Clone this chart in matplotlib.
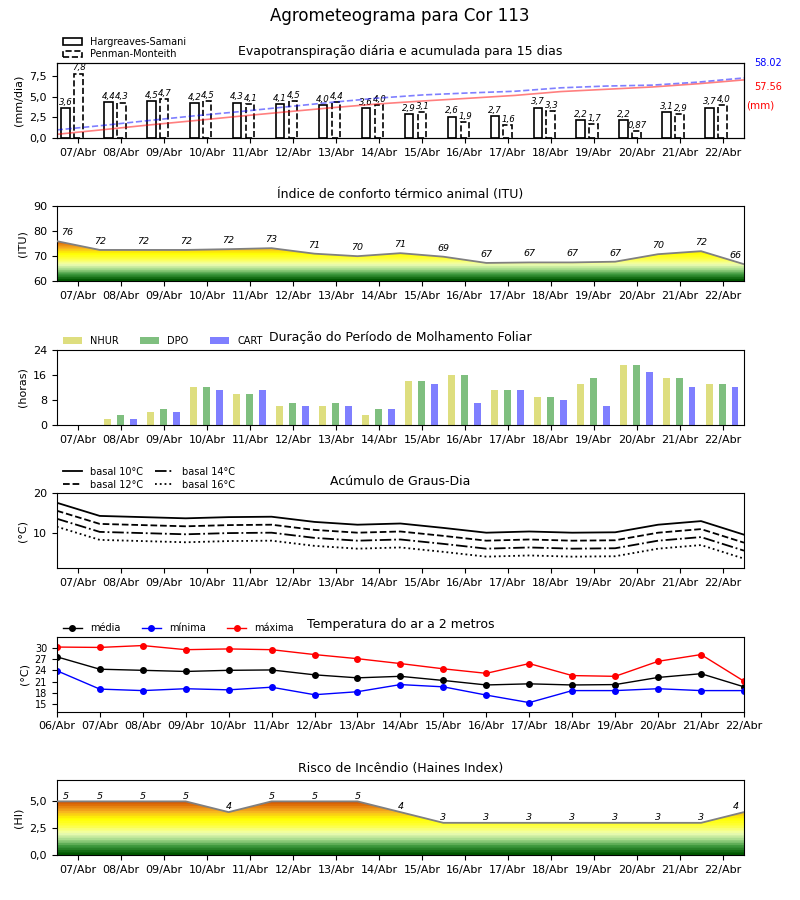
import numpy as np
import matplotlib
matplotlib.use("Agg")
import matplotlib.pyplot as plt
import matplotlib.patches as patches
from matplotlib.colors import LinearSegmentedColormap

# --- dados ---
dias = ["06/Abr", "07/Abr", "08/Abr", "09/Abr", "10/Abr", "11/Abr", "12/Abr", "13/Abr", "14/Abr",
        "15/Abr", "16/Abr", "17/Abr", "18/Abr", "19/Abr", "20/Abr", "21/Abr", "22/Abr"]

et_hs = [3.6, 4.4, 4.5, 4.2, 4.3, 4.1, 4.0, 3.6, 2.9, 2.6, 2.7, 3.7, 2.2, 2.2, 3.1, 3.7]
et_pm = [7.8, 4.3, 4.7, 4.5, 4.1, 4.5, 4.4, 4.0, 3.1, 1.9, 1.6, 3.3, 1.7, 0.87, 2.9, 4.0]
total_hs = 57.56
total_pm = 58.02

itu = [76.1, 72.6, 72.6, 72.6, 72.9, 73.3, 71.1, 70.1, 71.3, 69.9, 67.4, 67.6, 67.6, 67.9, 70.9, 72.1, 66.9]

nhur = [0, 2, 4, 12, 10, 6, 6, 3, 14, 16, 11, 9, 13, 19, 15, 13]
dpo = [0, 3, 5, 12, 10, 7, 7, 5, 14, 16, 11, 9, 15, 19, 15, 13]
cart = [0, 2, 4, 11, 11, 6, 6, 5, 13, 7, 11, 8, 6, 17, 12, 12]

gd10 = [17.6, 14.3, 14.0, 13.7, 14.0, 14.1, 12.8, 12.1, 12.4, 11.3, 10.1, 10.4, 10.1, 10.2, 12.1, 13.0, 9.6]
gd12 = [15.6, 12.3, 12.0, 11.7, 12.0, 12.1, 10.8, 10.1, 10.4, 9.3, 8.1, 8.4, 8.1, 8.2, 10.1, 11.0, 7.6]
gd14 = [13.6, 10.3, 10.0, 9.7, 10.0, 10.1, 8.8, 8.1, 8.4, 7.3, 6.1, 6.4, 6.1, 6.2, 8.1, 9.0, 5.6]
gd16 = [11.6, 8.3, 8.0, 7.7, 8.0, 8.1, 6.8, 6.1, 6.4, 5.3, 4.1, 4.4, 4.1, 4.2, 6.1, 7.0, 3.6]

t_media = [27.6, 24.3, 24.0, 23.7, 24.0, 24.1, 22.8, 22.0, 22.4, 21.3, 20.1, 20.4, 20.1, 20.2, 22.1, 23.1, 19.6]
t_min = [23.9, 19.0, 18.6, 19.1, 18.8, 19.5, 17.5, 18.3, 20.2, 19.6, 17.4, 15.4, 18.6, 18.6, 19.1, 18.6, 18.6]
t_max = [30.2, 30.1, 30.6, 29.5, 29.7, 29.5, 28.2, 27.1, 25.8, 24.4, 23.2, 25.8, 22.6, 22.4, 26.4, 28.2, 21.1]

haines = [5, 5, 5, 5, 4, 5, 5, 5, 4, 3, 3, 3, 3, 3, 3, 3, 4]


def br(v, nd):
    return f"{v:.{nd}f}".replace(".", ",")


def et_label(v):
    return br(v, 2) if v < 1 else br(v, 1)


cmap = LinearSegmentedColormap.from_list(
    "risco",
    [(0.0, "#005800"), (0.15, "#3f9a3f"), (0.28, "#a9dc8f"), (0.4, "#f0ffb4"),
     (0.55, "#ffff3a"), (0.68, "#ffff00"), (0.82, "#f7b222"), (1.0, "#d65800")],
    N=22)


def gradient_fill(ax, x, y, ymin):
    ymax = max(y)
    img = ax.imshow(np.linspace(0, 1, 256).reshape(-1, 1), cmap=cmap, aspect="auto",
                    origin="lower", extent=[x[0], x[-1], ymin, ymax], zorder=1)
    verts = [(x[0], ymin)] + list(zip(x, y)) + [(x[-1], ymin)]
    poly = patches.Polygon(verts, closed=True, facecolor="none", edgecolor="none")
    ax.add_patch(poly)
    img.set_clip_path(poly)
    ax.plot(x, y, color="gray", lw=1.3, zorder=3)


fig, axs = plt.subplots(6, 1, figsize=(8, 9), dpi=100)
fig.subplots_adjust(left=0.071, right=0.93, bottom=0.05, top=0.93, hspace=0.91)
fig.suptitle("Agrometeograma para Cor 113", fontsize=12, y=0.992)

xd = np.arange(16)
xl = np.arange(17) - 0.5

for ax in axs:
    ax.tick_params(labelsize=8)
for ax in [axs[0], axs[1], axs[2], axs[3], axs[5]]:
    ax.set_xticks(xd)
    ax.set_xticklabels(dias[1:])
    ax.set_xlim(-0.5, 15.5)

# --- evapotranspiracao ---
ax = axs[0]
b1 = ax.bar(xd - 0.3, et_hs, 0.2, facecolor="white", edgecolor="black", lw=1.2,
            label="Hargreaves-Samani")
b2 = ax.bar(xd, et_pm, 0.2, facecolor="white", edgecolor="black", lw=1.2, ls="--",
            label="Penman-Monteith")
for i in range(16):
    ax.text(xd[i] - 0.3, et_hs[i] + 0.15, et_label(et_hs[i]), ha="center", va="bottom",
            fontsize=6.2, style="italic")
    ax.text(xd[i] + 0.02, et_pm[i] + 0.15, et_label(et_pm[i]), ha="center", va="bottom",
            fontsize=6.2, style="italic")
ax.set_ylim(0, 9.1)
ax.set_yticks([0, 2.5, 5, 7.5])
ax.set_yticklabels([br(v, 1) for v in [0, 2.5, 5, 7.5]])
ax.set_ylabel("(mm/dia)", fontsize=8)
ax.set_title("Evapotranspiração diária e acumulada para 15 dias", fontsize=9)
ax.legend(handles=[b1, b2], loc="lower left", bbox_to_anchor=(0, 0.97), frameon=False,
          fontsize=7, borderpad=0.1, labelspacing=0.3)
ax2 = ax.twinx()
xc = np.linspace(-0.5, 15.5, 16)
ax2.plot(xc, np.cumsum(et_hs), color="r", alpha=0.5, lw=1.2)
ax2.plot(xc, np.cumsum(et_pm), color="b", ls="--", alpha=0.5, lw=1.2)
ax2.set_ylim(0, 72)
ax2.set_yticks([])
ax2.set_xlim(-0.5, 15.5)
ax.text(1.015, 1.0, f"{total_pm:.2f}", transform=ax.transAxes, color="blue", fontsize=7,
        va="center", ha="left")
ax.text(1.015, 0.68, f"{total_hs:.2f}", transform=ax.transAxes, color="red", fontsize=7,
        va="center", ha="left")
ax.text(1.003, 0.43, "(mm)", transform=ax.transAxes, color="red", fontsize=7.5,
        va="center", ha="left")

# --- ITU ---
ax = axs[1]
gradient_fill(ax, xl, itu, 60)
for i, v in enumerate(itu):
    xt = min(max(xl[i], -0.25), 15.3)
    ax.annotate(str(int(v)), (xt, v), xytext=(0, 3), textcoords="offset points",
                ha="center", va="bottom", fontsize=6.8, style="italic")
ax.set_xlim(-0.5, 15.5)
ax.set_ylim(60, 90)
ax.set_yticks([60, 70, 80, 90])
ax.set_ylabel("(ITU)", fontsize=8)
ax.set_title("Índice de conforto térmico animal (ITU)", fontsize=9)

# --- molhamento foliar ---
ax = axs[2]
ax.bar(xd - 0.31, nhur, 0.16, color="y", alpha=0.5, label="NHUR")
ax.bar(xd - 0.01, dpo, 0.16, color="g", alpha=0.5, label="DPO")
ax.bar(xd + 0.29, cart, 0.16, color="b", alpha=0.5, label="CART")
ax.set_ylim(0, 24)
ax.set_yticks([0, 8, 16, 24])
ax.set_ylabel("(horas)", fontsize=8)
ax.set_title("Duração do Período de Molhamento Foliar", fontsize=9)
ax.legend(loc="lower left", bbox_to_anchor=(0, 0.97), ncol=3, frameon=False, fontsize=7,
          borderpad=0.1, columnspacing=2.2)

# --- graus-dia ---
ax = axs[3]
ax.plot(xl, gd10, "k-", lw=1.3, label="basal 10°C")
ax.plot(xl, gd12, "k--", lw=1.3, label="basal 12°C")
ax.plot(xl, gd14, "k-.", lw=1.3, label="basal 14°C")
ax.plot(xl, gd16, "k:", lw=1.3, label="basal 16°C")
ax.set_ylim(1.2, 20)
ax.set_yticks([10, 20])
ax.set_ylabel("(°C)", fontsize=8)
ax.set_title("Acúmulo de Graus-Dia", fontsize=9)
ax.legend(loc="lower left", bbox_to_anchor=(0, 0.97), ncol=2, frameon=False, fontsize=7,
          borderpad=0.1, labelspacing=0.3, columnspacing=1.2)

# --- temperatura ---
ax = axs[4]
xt_ = np.arange(17)
ax.plot(xt_, t_media, "k-", marker="o", ms=4, lw=1, label="média")
ax.plot(xt_, t_min, "b-", marker="o", ms=4, lw=1, label="mínima")
ax.plot(xt_, t_max, "r-", marker="o", ms=4, lw=1, label="máxima")
ax.set_xticks(xt_)
ax.set_xticklabels(dias)
ax.set_xlim(0, 16)
ax.set_ylim(13, 33)
ax.set_yticks([15, 18, 21, 24, 27, 30])
ax.tick_params(axis="y", labelsize=7)
ax.set_ylabel("(°C)", fontsize=8)
ax.set_title("Temperatura do ar a 2 metros", fontsize=9)
ax.legend(loc="lower left", bbox_to_anchor=(0, 0.97), ncol=3, frameon=False, fontsize=7,
          borderpad=0.1, columnspacing=2.2)

# --- Haines ---
ax = axs[5]
gradient_fill(ax, xl, haines, 0)
for i, v in enumerate(haines):
    xt = min(max(xl[i], -0.3), 15.3)
    ax.annotate(str(v), (xt, v), xytext=(0, 0.5), textcoords="offset points",
                ha="center", va="bottom", fontsize=6.8, style="italic")
ax.set_xlim(-0.5, 15.5)
ax.set_ylim(0, 7)
ax.set_yticks([0, 2.5, 5])
ax.set_yticklabels([br(v, 1) for v in [0, 2.5, 5]])
ax.set_ylabel("(HI)", fontsize=8)
ax.set_title("Risco de Incêndio (Haines Index)", fontsize=9)

fig.savefig("out.png", dpi=100)
